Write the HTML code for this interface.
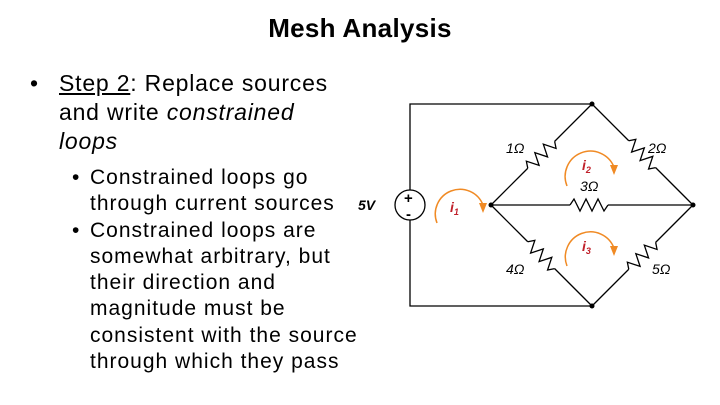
<!DOCTYPE html>
<html><head><style>
body{margin:0;width:720px;height:405px;background:#fff;position:relative;overflow:hidden;font-family:"Liberation Sans",Calibri,sans-serif;color:#000}
.t{position:absolute;left:0;width:720px;top:13px;text-align:center;font-size:26px;font-weight:bold;letter-spacing:0.3px}
.b1{position:absolute;left:30px;top:69px;font-size:23px;line-height:29px;letter-spacing:0.8px;white-space:nowrap}
.b1 .x{position:absolute;left:0}
.b1 .c{margin-left:29px}
.b2{position:absolute;left:72px;top:165px;font-size:21px;line-height:26.3px;white-space:nowrap;letter-spacing:1px}
.b2 div{position:relative;padding-left:18px}
.b2 span.d{position:absolute;left:0}
</style></head><body>
<div class="t">Mesh Analysis</div>
<div class="b1"><span class="x">•</span><div class="c"><u>Step 2</u>: Replace sources<br>and write <i>constrained</i><br><i>loops</i></div></div>
<div class="b2">
<div><span class="d">•</span>Constrained loops go<br>through current sources</div>
<div><span class="d">•</span>Constrained loops are<br>somewhat arbitrary, but<br>their direction and<br>magnitude must be<br>consistent with the source<br>through which they pass</div>
</div>
<svg width="720" height="405" style="position:absolute;left:0;top:0">
<g stroke="#000" stroke-width="1.3" fill="none">
<polyline points="410,190 410,104 592,104"/>
<polyline points="410,220 410,306 592,306"/>
<circle cx="410" cy="205" r="15"/>
<line x1="491" y1="205" x2="570" y2="205"/>
<polyline points="570,205 574,199 580,211 586,199 592,211 598,199 604,211 608,205"/>
<line x1="608" y1="205" x2="693" y2="205"/>
<g transform="translate(491,205) rotate(-45)"><line x1="0" y1="0" x2="52" y2="0"/><polyline points="52,0 56,-6 62,6 68,-6 74,6 80,-6 86,6 90,0"/><line x1="90" y1="0" x2="143" y2="0"/></g>
<g transform="translate(592,104) rotate(45)"><line x1="0" y1="0" x2="52" y2="0"/><polyline points="52,0 56,-6 62,6 68,-6 74,6 80,-6 86,6 90,0"/><line x1="90" y1="0" x2="143" y2="0"/></g>
<g transform="translate(491,205) rotate(45)"><line x1="0" y1="0" x2="52" y2="0"/><polyline points="52,0 56,-6 62,6 68,-6 74,6 80,-6 86,6 90,0"/><line x1="90" y1="0" x2="143" y2="0"/></g>
<g transform="translate(592,306) rotate(-45)"><line x1="0" y1="0" x2="52" y2="0"/><polyline points="52,0 56,-6 62,6 68,-6 74,6 80,-6 86,6 90,0"/><line x1="90" y1="0" x2="143" y2="0"/></g>
</g>
<g fill="#000"><circle cx="592" cy="104" r="2.5"/><circle cx="491" cy="205" r="2.5"/><circle cx="693" cy="205" r="2.5"/><circle cx="592" cy="306" r="2.5"/></g>
<g stroke="#f08a24" stroke-width="1.5" fill="none">
<path d="M437,223 A22,22 0 1 1 483,205"/>
<path d="M567,186 A22,22 0 1 1 614,167"/>
<path d="M567,266 A22,22 0 1 1 614,248"/>
</g>
<g fill="#f08a24"><polygon points="479,203 487,203 483,213"/><polygon points="610,165 618,165 614,175"/><polygon points="610,246 618,246 614,256"/></g>
<g font-family="Liberation Sans,sans-serif" font-style="italic" font-size="14">
<text x="506" y="153">1Ω</text><text x="648" y="153">2Ω</text><text x="580" y="191">3Ω</text><text x="506" y="274">4Ω</text><text x="652" y="274">5Ω</text>
<text x="358" y="210" font-weight="bold">5V</text>
</g>
<text x="404" y="203" font-size="15" font-weight="bold" font-family="Liberation Sans">+</text>
<text x="406" y="219" font-size="15" font-weight="bold" font-family="Liberation Sans">-</text>
<g fill="#c0202a" font-family="Liberation Sans,sans-serif" font-style="italic" font-weight="bold" font-size="14">
<text x="450" y="212">i<tspan font-size="9" dy="3">1</tspan></text>
<text x="582" y="170">i<tspan font-size="9" dy="3">2</tspan></text>
<text x="582" y="251">i<tspan font-size="9" dy="3">3</tspan></text>
</g>
</svg>
</body></html>
